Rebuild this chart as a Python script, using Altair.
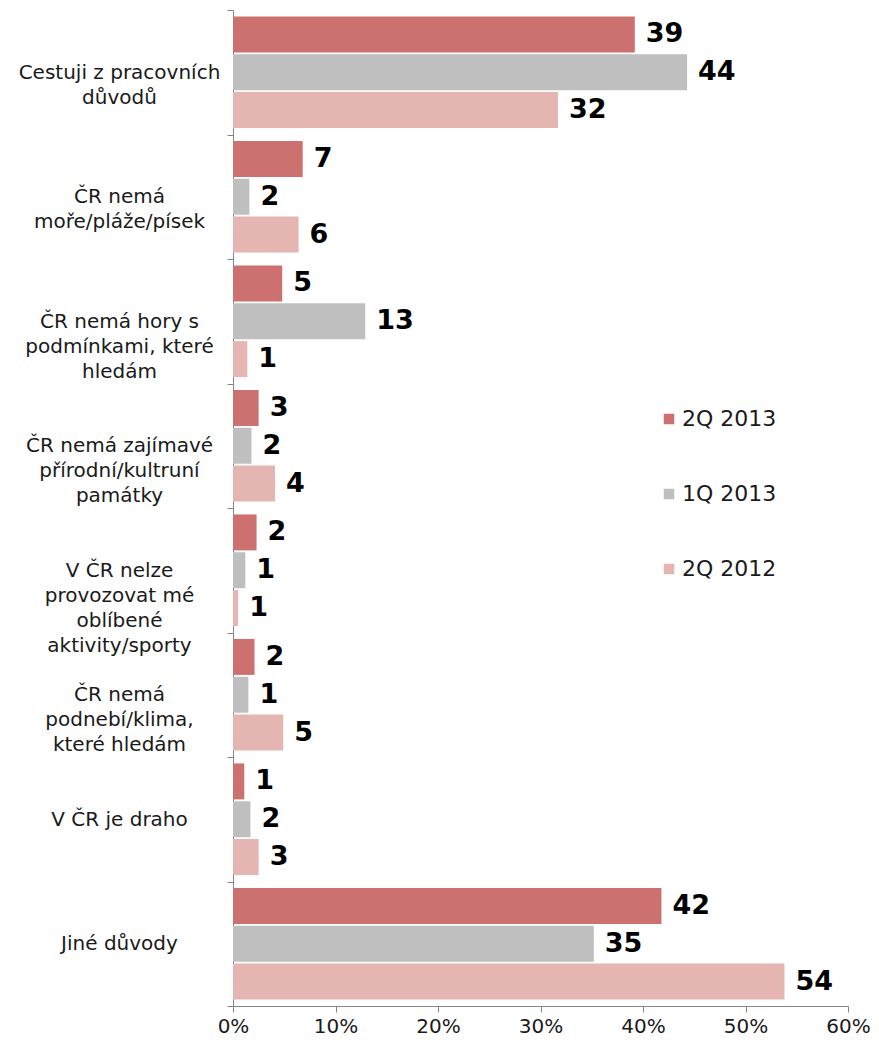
import altair as alt
import pandas as pd

categories = [
    "Cestuji z pracovních\ndůvodů",
    "ČR nemá\nmoře/pláže/písek",
    "ČR nemá hory s\npodmínkami, které\nhledám",
    "ČR nemá zajímavé\npřírodní/kultruní\npamátky",
    "V ČR nelze\nprovozovat mé\noblíbené\naktivity/sporty",
    "ČR nemá\npodnebí/klima,\nkteré hledám",
    "V ČR je draho",
    "Jiné důvody",
]
series = ["2Q 2013", "1Q 2013", "2Q 2012"]
colors = ["#CC716F", "#BFBFBF", "#E5B5B1"]

values_2q2013 = [39.2, 6.8, 4.8, 2.5, 2.3, 2.1, 1.1, 41.8]
values_1q2013 = [44.3, 1.6, 12.9, 1.8, 1.2, 1.5, 1.7, 35.2]
values_2q2012 = [31.7, 6.4, 1.4, 4.1, 0.5, 4.9, 2.5, 53.8]

labels_2q2013 = ["39", "7", "5", "3", "2", "2", "1", "42"]
labels_1q2013 = ["44", "2", "13", "2", "1", "1", "2", "35"]
labels_2q2012 = ["32", "6", "1", "4", "1", "5", "3", "54"]

x_ticks = [0, 10, 20, 30, 40, 50, 60]

rows = []
for s, vals, labs in zip(series,
                         [values_2q2013, values_1q2013, values_2q2012],
                         [labels_2q2013, labels_1q2013, labels_2q2012]):
    for c, v, l in zip(categories, vals, labs):
        rows.append({"cat": c, "series": s, "value": v, "label": l})
df = pd.DataFrame(rows)

FONT = "DejaVu Sans"

y_enc = alt.Y(
    "cat:N",
    sort=categories,
    scale=alt.Scale(paddingInner=0, paddingOuter=0),
    axis=alt.Axis(
        title=None,
        tickBand="extent",
        labelExpr="split(datum.label, '\\n')",
        labelAlign="center",
        labelBaseline="middle",
        labelPadding=108,
        labelLineHeight=25,
        labelFontSize=20,
        labelFont=FONT,
        labelColor="#1a1a1a",
        labelLimit=400,
        tickSize=6,
        tickColor="#868686",
        domainColor="#868686",
    ),
)
yoff_enc = alt.YOffset(
    "series:N",
    sort=series,
    scale=alt.Scale(paddingInner=0.05, paddingOuter=0.17),
)
x_enc = alt.X(
    "value:Q",
    scale=alt.Scale(domain=[0, 60], nice=False),
    axis=alt.Axis(
        title=None,
        values=x_ticks,
        labelExpr="datum.value + '%'",
        labelFontSize=20,
        labelFont=FONT,
        labelColor="#1a1a1a",
        labelFlush=False,
        labelOverlap=False,
        grid=False,
        tickSize=6,
        tickColor="#868686",
        domainColor="#868686",
        labelPadding=4,
    ),
)

bars = alt.Chart(df).mark_bar().encode(
    y=y_enc,
    yOffset=yoff_enc,
    x=x_enc,
    color=alt.Color(
        "series:N",
        sort=series,
        scale=alt.Scale(domain=series, range=colors),
        legend=alt.Legend(
            title=None,
            orient="none",
            legendX=425,
            legendY=398,
            symbolType="square",
            symbolSize=110,
            symbolStrokeWidth=0,
            labelFontSize=22,
            labelFont=FONT,
            labelColor="#1a1a1a",
            rowPadding=53,
            labelOffset=2,
        ),
    ),
)

texts = alt.Chart(df).mark_text(
    align="left", baseline="middle", dx=11, fontSize=27, fontWeight="bold",
    font=FONT, color="#000000",
).encode(
    y=alt.Y("cat:N", sort=categories),
    yOffset=alt.YOffset("series:N", sort=series),
    x=alt.X("value:Q"),
    text="label:N",
)

chart = alt.layer(bars, texts).properties(
    width=615,
    height=996,
    autosize=alt.AutoSizeParams(type="none"),
    padding={"left": 225, "top": 2, "right": 22, "bottom": 31},
).configure_view(stroke=None)

chart.save("out.html", embed_options={"renderer": "svg", "actions": False})
